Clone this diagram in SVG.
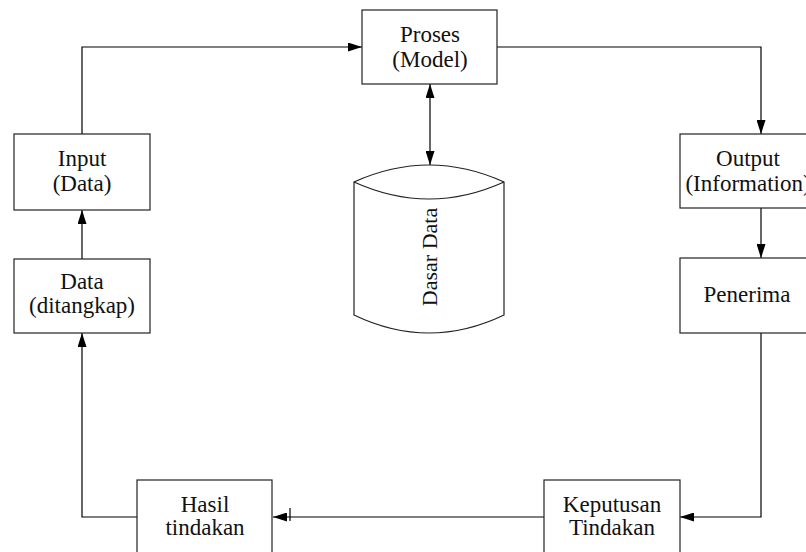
<svg xmlns="http://www.w3.org/2000/svg" width="806" height="552" viewBox="0 0 806 552">
  <defs>
    <marker id="arrow" markerUnits="userSpaceOnUse" markerWidth="14" markerHeight="9" refX="14" refY="4.5" orient="auto-start-reverse">
      <path d="M0,0 L14,4.5 L0,9 z" fill="#000"/>
    </marker>
  </defs>
  <style>
    .box { fill: #fff; stroke: #222; stroke-width: 1.2; }
    .lbl { font-family: "Liberation Serif", "Times New Roman", serif; font-size: 23px; fill: #111; text-anchor: middle; }
    .db { font-size: 22px; }
    .conn { fill: none; stroke: #000; stroke-width: 1.2; }
    .conn .arr { marker-end: url(#arrow); }
  </style>
  <rect width="806" height="552" fill="#fff"/>

  <!-- connectors -->
  <g id="connectors" class="conn">
    <path class="arr" d="M82,134 V47 H362"/>
    <path class="arr" d="M497,47 H761 V134"/>
    <path class="arr" d="M761,208 V258"/>
    <path class="arr" d="M761,333 V517 H680"/>
    <path class="arr" d="M544,517 H273"/>
    <path d="M290,508 V521"/>
    <path class="arr" d="M137,517 H82 V333"/>
    <path class="arr" d="M82,259 V210"/>
    <path class="arr" d="M430,84 V165" marker-start="url(#arrow)"/>
  </g>

  <g id="proses">
    <rect class="box" x="362" y="10" width="135" height="74"/>
    <text class="lbl" x="430" y="42">Proses</text>
    <text class="lbl" x="430" y="67">(Model)</text>
  </g>

  <g id="input">
    <rect class="box" x="14" y="134" width="136" height="76"/>
    <text class="lbl" x="82" y="166">Input</text>
    <text class="lbl" x="82" y="191">(Data)</text>
  </g>

  <g id="data">
    <rect class="box" x="14" y="259" width="136" height="74"/>
    <text class="lbl" x="82" y="289">Data</text>
    <text class="lbl" x="82" y="313">(ditangkap)</text>
  </g>

  <g id="output">
    <rect class="box" x="680" y="134" width="136" height="74"/>
    <text class="lbl" x="748" y="166">Output</text>
    <text class="lbl" x="748" y="191">(Information)</text>
  </g>

  <g id="penerima">
    <rect class="box" x="680" y="258" width="136" height="75"/>
    <text class="lbl" x="747" y="302">Penerima</text>
  </g>

  <g id="keputusan">
    <rect class="box" x="544" y="480" width="136" height="80"/>
    <text class="lbl" x="612" y="512">Keputusan</text>
    <text class="lbl" x="612" y="535">Tindakan</text>
  </g>

  <g id="hasil">
    <rect class="box" x="137" y="480" width="135" height="80"/>
    <text class="lbl" x="205" y="512">Hasil</text>
    <text class="lbl" x="205" y="535">tindakan</text>
  </g>

  <g id="dasar-data">
    <path class="box" d="M354,182 Q429,148 504,182 V315 Q429,351 354,315 Z"/>
    <path fill="none" stroke="#222" stroke-width="1.2" d="M354,182 Q429,216 504,182"/>
    <text class="lbl db" transform="translate(437,257) rotate(-90)">Dasar Data</text>
  </g>
</svg>
